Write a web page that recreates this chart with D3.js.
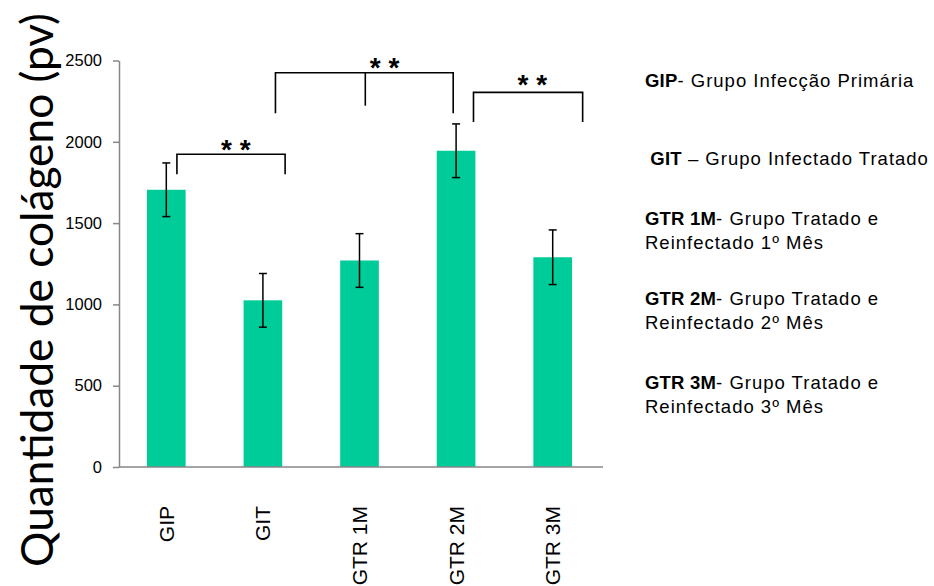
<!DOCTYPE html>
<html>
<head>
<meta charset="utf-8">
<script src="https://cdn.jsdelivr.net/npm/d3@7"></script>
<style>
  html, body { margin: 0; padding: 0; background: #fff; }
  svg { display: block; }
  text { font-family: "Liberation Sans", Arimo, Arial, sans-serif; }
</style>
</head>
<body>
<svg id="chart" width="934" height="586"></svg>
<script>
// Collagen quantity per group (mean and error)
const categories = ["GIP", "GIT", "GTR 1M", "GTR 2M", "GTR 3M"];
const values = [1705, 1025, 1270, 1945, 1290];
const errors = [165, 165, 165, 165, 168];
const yTicks = [0, 500, 1000, 1500, 2000, 2500];
const yTitle = "Quantidade de colágeno (pv)";

// Significance brackets: category positions (fractional index) and heights in pv
const bracketFrom = [0.11, 1.13, 3.18];
const bracketTo = [1.23, 2.97, 4.31];
const bracketMid = [null, 2.06, null];
const bracketTop = [1923, 2425, 2304];
const bracketLeg = [1800, 2175, 2122];
const bracketMidLeg = [null, 2222, null];
const starPos = [0.72, 2.26, 3.79];
const starLevel = [1986, 2493, 2386];
const starLabel = "* *";

// Legend entries
const legendKeys = ["GIP", "\u00a0GIT", "GTR 1M", "GTR 2M", "GTR 3M"];
const legendText = [
  ["- Grupo Infecção Primária"],
  [" – Grupo Infectado Tratado"],
  ["- Grupo Tratado e", "Reinfectado 1º Mês"],
  ["- Grupo Tratado e", "Reinfectado 2º Mês"],
  ["- Grupo Tratado e", "Reinfectado 3º Mês"]
];

const svg = d3.select("#chart");
const barColor = "#00CC99";
const axisColor = "#878787";
const sansFont = "'Liberation Sans', Arimo, Arial, sans-serif";

const x = d3.scaleBand()
  .domain(categories)
  .range([118, 601])
  .paddingInner(0.6)
  .paddingOuter(0.3);

const y = d3.scaleLinear()
  .domain([0, 2500])
  .range([467, 60.5]);

// position along the x axis for a fractional category index
const step = x.step();
const cx = i => x(categories[0]) + x.bandwidth() / 2 + i * step;

// bars
svg.append("g")
  .selectAll("rect")
  .data(values)
  .join("rect")
  .attr("x", (d, i) => x(categories[i]))
  .attr("y", d => y(d))
  .attr("width", x.bandwidth())
  .attr("height", d => y(0) - y(d))
  .attr("fill", barColor);

// error bars
const eb = svg.append("g").attr("stroke", "#000").attr("stroke-width", 1.5);
values.forEach((v, i) => {
  const xc = x(categories[i]) + x.bandwidth() / 2;
  const hi = y(v + errors[i]), lo = y(v - errors[i]);
  eb.append("line").attr("x1", xc).attr("x2", xc).attr("y1", hi).attr("y2", lo);
  eb.append("line").attr("x1", xc - 4).attr("x2", xc + 4).attr("y1", hi).attr("y2", hi);
  eb.append("line").attr("x1", xc - 4).attr("x2", xc + 4).attr("y1", lo).attr("y2", lo);
});

// y axis
const yAxis = svg.append("g")
  .attr("transform", "translate(119,0)")
  .call(d3.axisLeft(y).tickValues(yTicks).tickFormat(d3.format("d"))
    .tickSize(6).tickSizeOuter(0).tickPadding(11));
yAxis.select(".domain").attr("stroke", axisColor).attr("stroke-width", 1.5);
yAxis.selectAll(".tick line").attr("stroke", axisColor).attr("stroke-width", 1.5);
yAxis.selectAll(".tick text")
  .attr("fill", "#000")
  .style("font-size", "16.5px")
  .style("font-family", sansFont);

// x axis
const xAxis = svg.append("g")
  .attr("transform", `translate(0,${y(0)})`)
  .call(d3.axisBottom(x).tickSize(0).tickSizeOuter(0));
xAxis.select(".domain")
  .attr("d", `M119,0H603`)
  .attr("stroke", axisColor).attr("stroke-width", 1.5);
xAxis.selectAll(".tick text")
  .attr("transform", "rotate(-90)")
  .attr("x", -39)
  .attr("y", 0)
  .attr("dy", "0.36em")
  .attr("fill", "#000")
  .style("text-anchor", "end")
  .style("font-size", "21px")
  .style("font-family", sansFont);

// y axis title, sized to span the plot height
const title = svg.append("text")
  .attr("transform", "translate(53,290) rotate(-90)")
  .attr("text-anchor", "middle")
  .style("font-family", "Lato, 'Open Sans', sans-serif")
  .style("font-size", "38px")
  .attr("fill", "#000")
  .text(yTitle);
const tl = title.node().getComputedTextLength();
title.style("font-size", (38 * 554 / tl).toFixed(2) + "px");

// significance brackets
const br = svg.append("g").attr("fill", "none").attr("stroke", "#000").attr("stroke-width", 1.6);
bracketFrom.forEach((f, i) => {
  const x1 = cx(f), x2 = cx(bracketTo[i]);
  const yt = y(bracketTop[i]), yl = y(bracketLeg[i]);
  br.append("path").attr("d", `M${x1},${yl}V${yt}H${x2}V${yl}`);
  if (bracketMid[i] !== null) {
    const xm = cx(bracketMid[i]);
    br.append("line").attr("x1", xm).attr("x2", xm)
      .attr("y1", yt).attr("y2", y(bracketMidLeg[i]));
  }
});
svg.append("g")
  .selectAll("text")
  .data(starPos)
  .join("text")
  .attr("x", d => cx(d))
  .attr("y", (d, i) => y(starLevel[i]) + 15)
  .attr("text-anchor", "middle")
  .style("font-size", "28px")
  .style("font-weight", "bold")
  .style("font-family", sansFont)
  .attr("fill", "#000")
  .text(starLabel);

// legend
const legendY = [87, 165, 225, 305, 389];
const lg = svg.append("g").attr("fill", "#000");
legendKeys.forEach((k, i) => {
  const t = lg.append("text")
    .attr("x", 645)
    .attr("y", legendY[i])
    .attr("xml:space", "preserve")
    .style("font-family", sansFont)
    .style("font-size", "18.5px")
    .style("letter-spacing", "1px");
  t.append("tspan").style("font-weight", "bold").style("letter-spacing", "0.2px").text(k);
  legendText[i].forEach((line, j) => {
    if (j === 0) t.append("tspan").text(line);
    else t.append("tspan").attr("x", 645).attr("dy", 24).text(line);
  });
});
</script>
</body>
</html>
